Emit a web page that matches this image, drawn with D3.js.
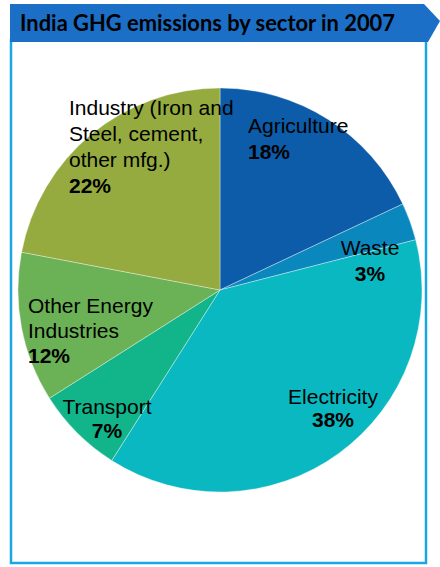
<!DOCTYPE html>
<html>
<head>
<meta charset="utf-8">
<script src="https://cdn.jsdelivr.net/npm/d3@7"></script>
<style>
  body { margin: 0; background: #fff; }
  svg { display: block; }
</style>
</head>
<body>
<script>
// India GHG emissions by sector, 2007 (share of total, %)
var sectors = ['Agriculture', 'Waste', 'Electricity', 'Transport', 'Other Energy Industries', 'Industry'];
var shares = [18, 3, 38, 7, 12, 22];
var labelLines = [
  ['Agriculture'],
  ['Waste'],
  ['Electricity'],
  ['Transport'],
  ['Other Energy', 'Industries'],
  ['Industry (Iron and', 'Steel, cement,', 'other mfg.)']
];
var colors = ['#0c5ca9', '#0a87bc', '#0ab8c1', '#12b48a', '#6bb156', '#95ab3f'];

var width = 440;
var height = 567;

var svg = d3.select('body').append('svg').attr('width', width).attr('height', height);

// frame
svg.append('rect')
  .attr('x', 11).attr('y', 40)
  .attr('width', 415).attr('height', 523)
  .attr('fill', 'none')
  .attr('stroke', '#1aa7e1')
  .attr('stroke-width', 2.5);

// title banner with arrow tip
svg.append('path')
  .attr('d', 'M10,4 L424,4 L440,21 L428,42 L10,42 Z')
  .attr('fill', '#1b6fc6');

svg.append('text')
  .attr('x', 20).attr('y', 31)
  .attr('font-family', 'Lato, "Open Sans", sans-serif')
  .attr('font-weight', 'bold')
  .attr('font-size', 23)
  .attr('textLength', 375)
  .attr('lengthAdjust', 'spacingAndGlyphs')
  .attr('fill', '#000')
  .text('India GHG emissions by sector in 2007');

// pie
var cx = 220, cy = 290, radius = 202;
var pie = d3.pie().sort(null).value(function(d){ return d; });
var arc = d3.arc().innerRadius(0).outerRadius(radius);
var arcs = pie(shares);

var g = svg.append('g').attr('transform', 'translate(' + cx + ',' + cy + ')');

g.selectAll('path.slice')
  .data(arcs)
  .enter()
  .append('path')
  .attr('class', 'slice')
  .attr('d', arc)
  .attr('fill', function(d, i){ return colors[i]; })
  .attr('stroke', '#ffffff')
  .attr('stroke-opacity', 0.6)
  .attr('stroke-width', 0.6);

// label placement (offset from pie centre), anchor and line spacing
var labelPos = [
  {x: 28, y: -157, anchor: 'start', lh: 26},
  {x: 150, y: -35, anchor: 'middle', lh: 26},
  {x: 113, y: 114, anchor: 'middle', lh: 23},
  {x: -113, y: 124, anchor: 'middle', lh: 24},
  {x: -192, y: 23, anchor: 'start', lh: 25},
  {x: -151, y: -175, anchor: 'start', lh: 26}
];

var labels = g.selectAll('text.lbl')
  .data(arcs)
  .enter()
  .append('text')
  .attr('class', 'lbl')
  .attr('font-family', '"Liberation Sans", Arial, sans-serif')
  .attr('font-size', 21)
  .attr('fill', '#000')
  .attr('text-anchor', function(d, i){ return labelPos[i].anchor; })
  .attr('x', function(d, i){ return labelPos[i].x; })
  .attr('y', function(d, i){ return labelPos[i].y; });

labels.each(function(d, i){
  var t = d3.select(this);
  var p = labelPos[i];
  labelLines[i].forEach(function(line, k){
    t.append('tspan')
      .attr('x', p.x)
      .attr('dy', k === 0 ? 0 : p.lh)
      .text(line);
  });
  t.append('tspan')
    .attr('x', p.x)
    .attr('dy', p.lh)
    .attr('font-weight', 'bold')
    .text(shares[i] + '%');
});
</script>
</body>
</html>
